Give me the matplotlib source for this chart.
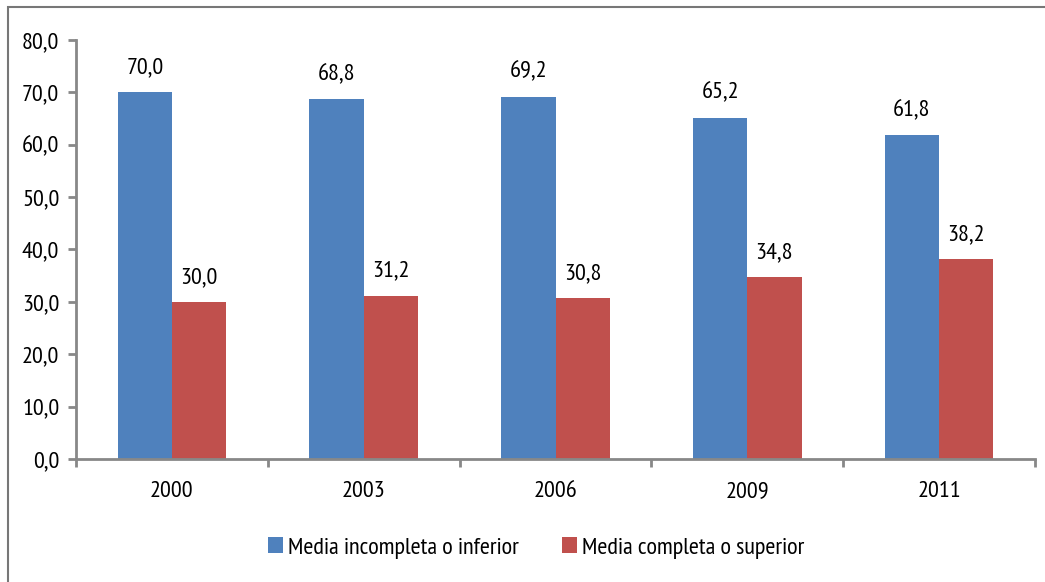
import numpy as np
import matplotlib
matplotlib.use("Agg")
import matplotlib.pyplot as plt
from matplotlib.patches import Rectangle

years = ['2000', '2003', '2006', '2009', '2011']
inferior = [70.0, 68.8, 69.2, 65.2, 61.8]
superior = [30.0, 31.2, 30.8, 34.8, 38.2]
labels = ['Media incompleta o inferior', 'Media completa o superior']
colors = ['#4F81BD', '#C0504D']

plt.rcParams['font.family'] = ['PT Sans Narrow', 'DejaVu Sans']
fs = 17.5

fig = plt.figure(figsize=(10.45, 5.82), dpi=100)
# marco gris de la figura
fig.patches.append(Rectangle((8 / 1045, -0.1), 1.2, 1 - 7 / 582 + 0.1,
                             transform=fig.transFigure, fill=False,
                             edgecolor='#777777', linewidth=1.5))
ax = fig.add_axes([76 / 1045, 1 - 459 / 582, (1035 - 76) / 1045, (459 - 40) / 582])

x = np.arange(len(years))
w = 0.283
b1 = ax.bar(x - w / 2, inferior, w, color=colors[0], label=labels[0])
b2 = ax.bar(x + w / 2, superior, w, color=colors[1], label=labels[1])
fmt = lambda v: f'{v:.1f}'.replace('.', ',')
ax.bar_label(b1, labels=[fmt(v) for v in inferior], padding=10, fontsize=fs)
ax.bar_label(b2, labels=[fmt(v) for v in superior], padding=10, fontsize=fs)

ax.set_xlim(-0.5, len(years) - 0.5)
ax.set_ylim(0, 80)
ax.set_yticks(np.arange(0, 81, 10))
ax.set_yticklabels([fmt(v) for v in np.arange(0, 81, 10)], fontsize=fs)
ax.set_xticks(x)
ax.set_xticklabels(years, fontsize=fs)
ax.tick_params(axis='x', length=0, pad=16)
ax.set_xticks(np.arange(-0.5, len(years)), minor=True)
ax.tick_params(axis='x', which='minor', length=6, width=2, color='#888888')
ax.tick_params(axis='y', length=6, width=2, color='#888888', pad=6)

for s in ['top', 'right']:
    ax.spines[s].set_visible(False)
for s in ['left', 'bottom']:
    ax.spines[s].set_color('#888888')
    ax.spines[s].set_linewidth(2)

fig.legend(loc='center', bbox_to_anchor=(536 / 1045, 1 - 548 / 582), ncol=2,
           frameon=False, fontsize=fs, handlelength=0.6, handleheight=0.6,
           handletextpad=0.2, columnspacing=1.8)

fig.savefig('out.png', dpi=100)
